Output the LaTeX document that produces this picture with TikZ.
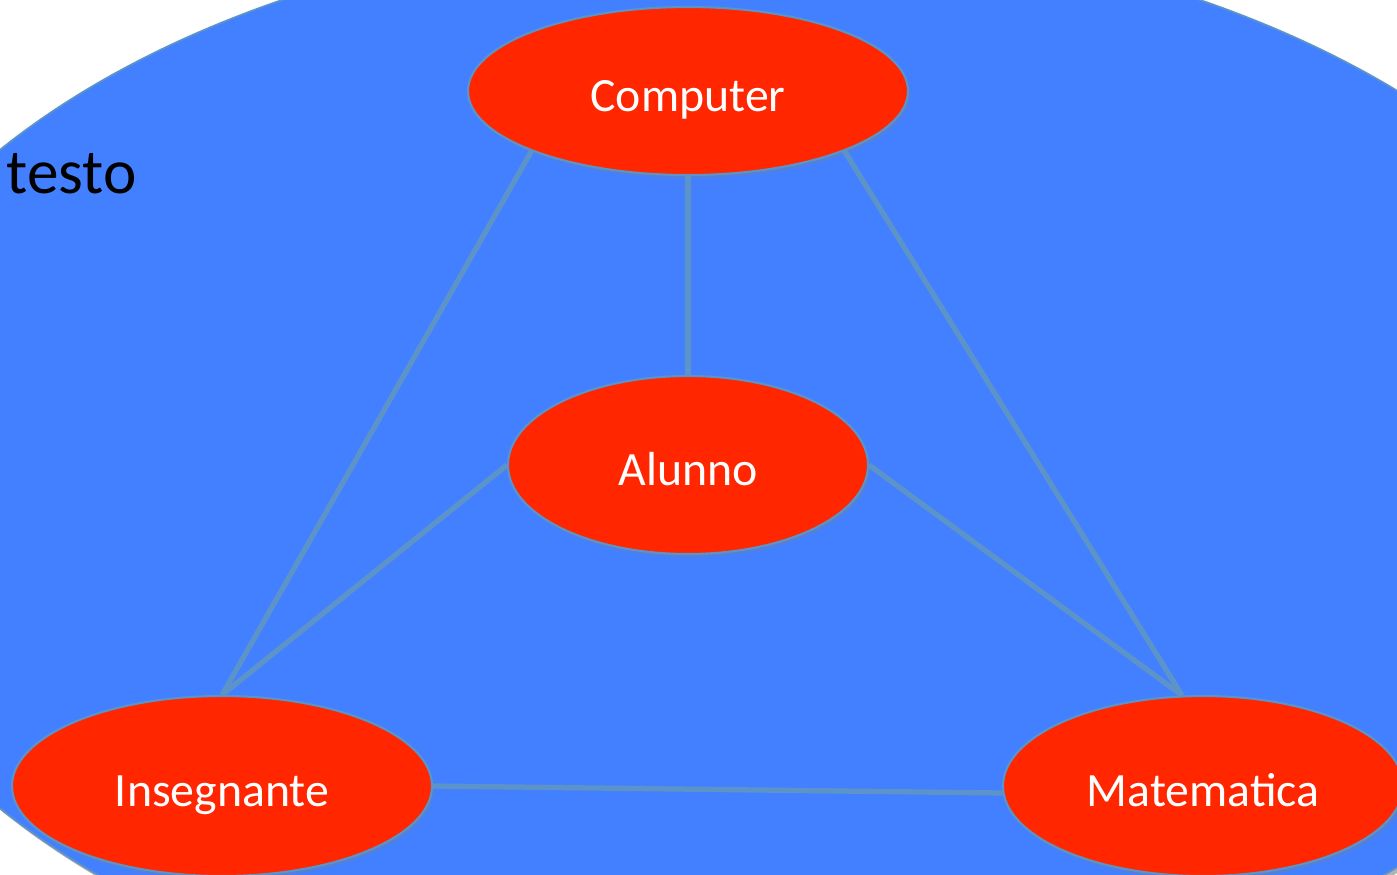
\documentclass[tikz,border=0pt]{standalone}
\usepackage{fontspec}
\setmainfont{Carlito}
\usetikzlibrary{shapes.geometric,shadows}
\definecolor{bgblue}{RGB}{66,128,255}
\definecolor{topicred}{RGB}{255,38,0}
\definecolor{linkblue}{RGB}{92,148,202}
\tikzset{
  topic/.style={ellipse,fill=topicred,draw=linkblue,line width=0.6pt,text=white,inner sep=0pt,
    font=\fontsize{13.6}{16}\selectfont,text height=0.4cm,text depth=0pt,
    drop shadow={opacity=0.35,shadow xshift=0.02cm,shadow yshift=-0.03cm}},
  link/.style={draw=linkblue,line width=1.5pt}
}

\begin{document}
\begin{tikzpicture}
  \useasboundingbox (0,0) rectangle (13.97,-8.74);
  \begin{scope}
    \clip (0,0) rectangle (13.97,-8.74);
    \fill[black,opacity=0.3] (7.44,-4.83) ellipse [x radius=9.23,y radius=5.52];
    \filldraw[fill=bgblue,draw=linkblue,line width=0.5pt] (7.41,-4.79) ellipse [x radius=9.23,y radius=5.52];
  \end{scope}

  \node[anchor=base west,inner sep=0pt,font=\fontsize{18}{20}\selectfont] (testo) at (0.06,-1.93) {testo};

  \node[topic,minimum width=4.4cm,minimum height=1.68cm] (comp) at (6.88,-0.91) {Computer};
  \node[topic,minimum width=3.6cm,minimum height=1.78cm] (alu) at (6.88,-4.65) {Alunno};
  \node[topic,minimum width=4.2cm,minimum height=1.8cm] (ins) at (2.22,-7.86) {Insegnante};
  \node[topic,minimum width=4.0cm,minimum height=1.8cm] (mat) at (12.03,-7.86) {Matematica};

  \draw[link] (comp.201) -- (ins.north);
  \draw[link] (comp.south) -- (alu.north);
  \draw[link] (comp.-21) -- (mat.103);
  \draw[link] (alu.west) -- (ins.north);
  \draw[link] (alu.east) -- (mat.103);
  \draw[link] (ins.east) -- (mat.182);
\end{tikzpicture}
\end{document}
